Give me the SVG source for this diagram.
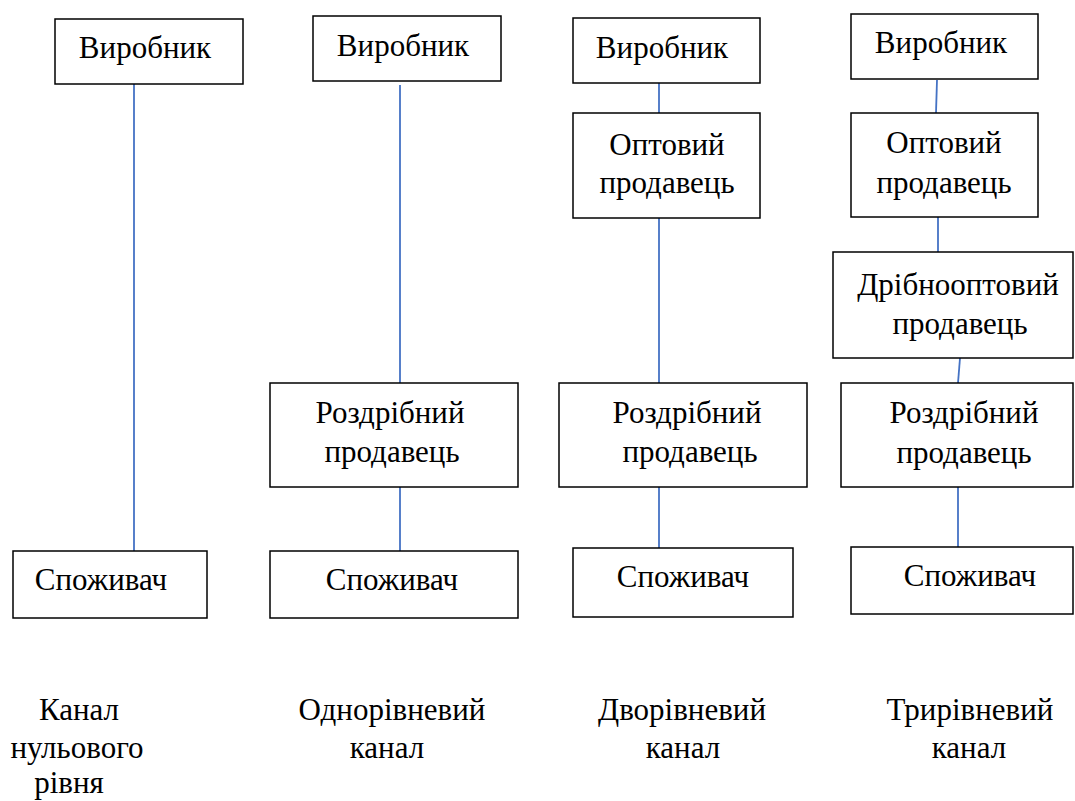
<svg xmlns="http://www.w3.org/2000/svg" width="1075" height="801" viewBox="0 0 1075 801">
<style>
rect.b{fill:#fff;stroke:#000;stroke-width:1.5}
text{font-family:"Liberation Serif","Times New Roman",serif;font-size:31px;fill:#000;text-anchor:middle}
line{stroke:#4472C4;stroke-width:1.8}
</style>
<rect width="1075" height="801" fill="#fff"/>
<g id="connectors">
<line x1="134" y1="84" x2="134" y2="551"/>
<line x1="400" y1="85" x2="400" y2="383"/>
<line x1="400" y1="487" x2="400" y2="551"/>
<line x1="659" y1="83" x2="659" y2="113"/>
<line x1="659" y1="218" x2="659" y2="383"/>
<line x1="659" y1="487" x2="659" y2="548"/>
<line x1="937" y1="80" x2="936" y2="113"/>
<line x1="938" y1="217" x2="938" y2="252"/>
<line x1="960" y1="358" x2="958" y2="383"/>
<line x1="958" y1="487" x2="958" y2="547"/>
</g>
<g id="n1">
<rect class="b" x="55" y="19" width="188" height="65"/>
<text x="145" y="58">Виробник</text>
</g>
<g id="n2">
<rect class="b" x="313" y="16" width="188" height="65"/>
<text x="403" y="56">Виробник</text>
</g>
<g id="n3">
<rect class="b" x="573" y="18" width="187" height="65"/>
<text x="662" y="58">Виробник</text>
</g>
<g id="n4">
<rect class="b" x="851" y="14" width="187" height="65"/>
<text x="941" y="53">Виробник</text>
</g>
<g id="n5">
<rect class="b" x="573" y="113" width="187" height="105"/>
<text x="667" y="155">Оптовий</text>
<text x="667" y="193">продавець</text>
</g>
<g id="n6">
<rect class="b" x="851" y="113" width="187" height="104"/>
<text x="944" y="153">Оптовий</text>
<text x="944" y="193">продавець</text>
</g>
<g id="n7">
<rect class="b" x="833" y="252" width="240" height="106"/>
<text x="958" y="295">Дрібнооптовий</text>
<text x="960" y="334">продавець</text>
</g>
<g id="n8">
<rect class="b" x="270" y="383" width="248" height="104"/>
<text x="390" y="423">Роздрібний</text>
<text x="392" y="462">продавець</text>
</g>
<g id="n9">
<rect class="b" x="559" y="383" width="248" height="104"/>
<text x="687" y="423">Роздрібний</text>
<text x="690" y="462">продавець</text>
</g>
<g id="n10">
<rect class="b" x="841" y="383" width="232" height="104"/>
<text x="964" y="423">Роздрібний</text>
<text x="964" y="463">продавець</text>
</g>
<g id="n11">
<rect class="b" x="13" y="551" width="194" height="67"/>
<text x="101" y="590">Споживач</text>
</g>
<g id="n12">
<rect class="b" x="270" y="551" width="248" height="67"/>
<text x="392" y="590">Споживач</text>
</g>
<g id="n13">
<rect class="b" x="573" y="548" width="220" height="69"/>
<text x="683" y="587">Споживач</text>
</g>
<g id="n14">
<rect class="b" x="851" y="547" width="222" height="67"/>
<text x="970" y="586">Споживач</text>
</g>
<g id="labels">
<text x="79" y="720">Канал</text>
<text x="77" y="758">нульового</text>
<text x="69" y="793">рівня</text>
<text x="392" y="720">Однорівневий</text>
<text x="387" y="758">канал</text>
<text x="682" y="720">Дворівневий</text>
<text x="683" y="758">канал</text>
<text x="970" y="720">Трирівневий</text>
<text x="969" y="758">канал</text>
</g>
</svg>
